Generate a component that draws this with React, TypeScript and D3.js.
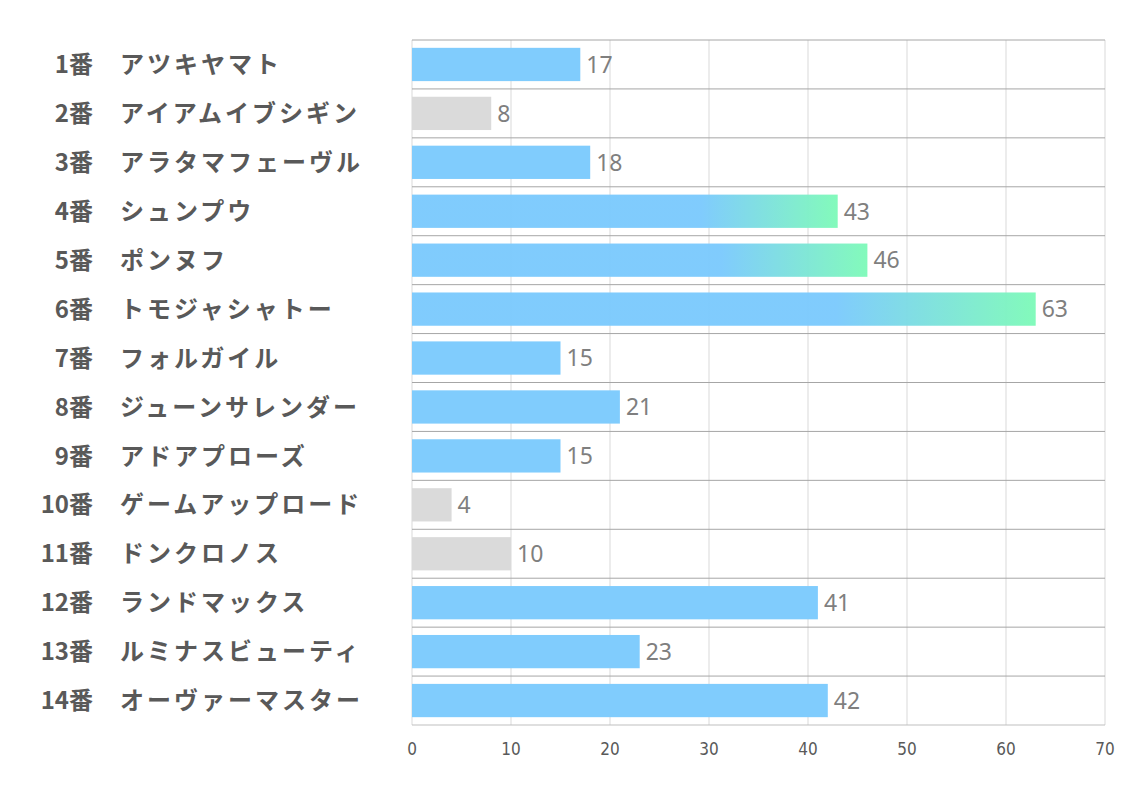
import React from "react";
import * as d3 from "d3";

const numbers = ["1番","2番","3番","4番","5番","6番","7番","8番","9番","10番","11番","12番","13番","14番"];
const names = ["アツキヤマト","アイアムイブシギン","アラタマフェーヴル","シュンプウ","ポンヌフ","トモジャシャトー","フォルガイル","ジューンサレンダー","アドアプローズ","ゲームアップロード","ドンクロノス","ランドマックス","ルミナスビューティ","オーヴァーマスター"];
const values = [17, 8, 18, 43, 46, 63, 15, 21, 15, 4, 10, 41, 23, 42];
const ticks = [0, 10, 20, 30, 40, 50, 60, 70];

const W = 1134, H = 793;
const left = 412, right = 1105, top = 40, bottom = 725;

export default function App() {
  const x = d3.scaleLinear().domain([0, 70]).range([left, right]);
  const y = d3.scaleBand<number>().domain(values.map((_, i) => i)).range([top, bottom]).paddingInner(0.32).paddingOuter(0.16);
  const rowH = (bottom - top) / values.length;
  const sorted = [...values].sort((a, b) => b - a);
  const top3 = sorted[2];
  return (
    <svg width={W} height={H} style={{ position: "absolute", left: 0, top: 0, background: "#fff" }}>
      <defs>
        <linearGradient id="g" x1="0" x2="1" y1="0" y2="0">
          <stop offset="0" stopColor="#7ccafd" />
          <stop offset="0.68" stopColor="#7ccafd" />
          <stop offset="1" stopColor="#7ffab9" />
        </linearGradient>
      </defs>
      <rect x={0} y={0} width={W} height={H} fill="#fff" />
      {ticks.map(t => (
        <line key={"v" + t} x1={x(t)} x2={x(t)} y1={top} y2={bottom} stroke="#d9d9d9" strokeWidth={1} />
      ))}
      {d3.range(values.length + 1).map(i => (
        <line key={"h" + i} x1={left} x2={right} y1={top + i * rowH} y2={top + i * rowH} stroke={i === values.length ? "#bfbfbf" : "#a6a6a6"} strokeWidth={1} />
      ))}
      {values.map((v, i) => {
        const fill = v >= top3 ? "url(#g)" : v <= 10 ? "#d9d9d9" : "#7ccafd";
        return (
          <g key={i}>
            <rect x={x(0)} y={y(i)} width={x(v) - x(0)} height={y.bandwidth()} fill={fill} opacity={0.97} />
            <text x={x(v) + 6} y={y(i)! + y.bandwidth() / 2} dy="0.36em" fontFamily="'Noto Sans', sans-serif" fontSize={23} fill="#7f7f7f">{v}</text>
            <text x={93} y={top + (i + 0.5) * rowH} dy="0.36em" textAnchor="end" fontFamily="'Noto Sans CJK JP', sans-serif" fontWeight="bold" fontSize={24} fill="#595959">{numbers[i]}</text>
            <text x={120} y={top + (i + 0.5) * rowH} dy="0.36em" fontFamily="'Noto Sans CJK JP', sans-serif" fontWeight="bold" fontSize={24} letterSpacing={3} fill="#595959">{names[i]}</text>
          </g>
        );
      })}
      {ticks.map(t => (
        <text key={"t" + t} x={x(t)} y={749} textAnchor="middle" dy="0.36em" fontFamily="'Liberation Sans Narrow', 'DejaVu Sans Condensed', sans-serif" fontSize={17} fill="#595959">{t}</text>
      ))}
    </svg>
  );
}
